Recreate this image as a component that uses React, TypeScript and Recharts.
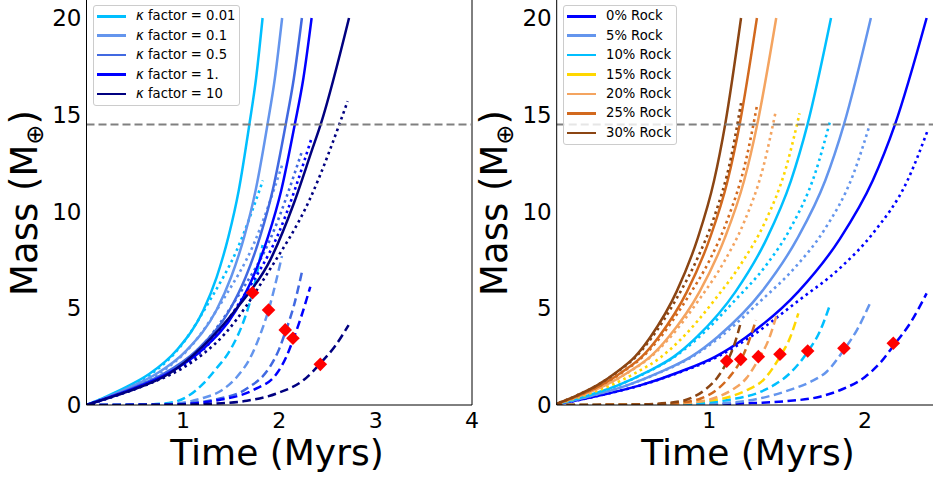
import React from "react";
import {
  ComposedChart,
  Line,
  ReferenceLine,
  Scatter,
  XAxis,
  YAxis,
} from "recharts";

type Pt = [number, number]; // [time (Myrs), mass (Earth masses)]

// ---- left panel: kappa factor runs ----
const k001Solid: Pt[] = [[0, 0], [0.21, 0.45], [0.42, 0.95], [0.65, 1.6], [0.937, 2.84], [1.214, 4.91], [1.35, 6.6], [1.473, 8.7], [1.58, 11.1], [1.69, 14.5], [1.76, 16.9], [1.827, 20]];
const k01Solid: Pt[] = [[0, 0], [0.233, 0.45], [0.467, 0.95], [0.722, 1.6], [1.041, 2.84], [1.349, 4.91], [1.5, 6.6], [1.637, 8.7], [1.755, 11.1], [1.878, 14.5], [1.955, 16.9], [2.03, 20]];
const k05Solid: Pt[] = [[0, 0], [0.257, 0.45], [0.514, 0.95], [0.795, 1.6], [1.146, 2.84], [1.485, 4.91], [1.651, 6.6], [1.801, 8.7], [1.932, 11.1], [2.067, 14.5], [2.152, 16.9], [2.235, 20]];
const k1Solid: Pt[] = [[0, 0], [0.269, 0.45], [0.537, 0.95], [0.831, 1.6], [1.198, 2.84], [1.553, 4.91], [1.727, 6.6], [1.884, 8.7], [2.021, 11.1], [2.161, 14.5], [2.251, 16.9], [2.336, 20]];
const k10Solid: Pt[] = [[0, 0], [0.21, 0.33], [0.42, 0.68], [0.868, 1.65], [1.2, 3.0], [1.56, 5.0], [1.906, 7.49], [2.15, 10.4], [2.34, 13.18], [2.43, 14.5], [2.724, 20]];

const k001Dotted: Pt[] = [[0, 0], [0.21, 0.42], [0.42, 0.9], [0.67, 1.6], [0.971, 3.0], [1.283, 5.43], [1.56, 8.01], [1.83, 11.6]];
const k01Dotted: Pt[] = [[0, 0], [0.233, 0.42], [0.467, 0.9], [0.745, 1.6], [1.078, 3.0], [1.425, 5.5], [1.734, 8.3], [2.03, 12.4]];
const k05Dotted: Pt[] = [[0, 0], [0.257, 0.42], [0.514, 0.9], [0.82, 1.6], [1.187, 3.0], [1.569, 5.6], [1.909, 8.6], [2.235, 13.1]];
const k1Dotted: Pt[] = [[0, 0], [0.269, 0.42], [0.537, 0.9], [0.857, 1.6], [1.24, 3.0], [1.64, 5.7], [1.995, 8.9], [2.336, 13.8]];
const k10Dotted: Pt[] = [[0, 0], [0.312, 0.5], [0.623, 1.05], [0.995, 1.9], [1.439, 3.7], [1.902, 7.0], [2.314, 10.6], [2.71, 15.7]];

const k001Dashed: Pt[] = [[0, 0], [0.6, 0.02], [0.9, 0.15], [1.05, 0.45], [1.214, 1.12], [1.35, 1.9], [1.491, 2.84], [1.647, 4.56], [1.723, 5.8], [1.827, 8.27]];
const k01Dashed: Pt[] = [[0, 0], [0.7, 0.02], [1.0, 0.12], [1.2, 0.35], [1.4, 0.75], [1.56, 1.45], [1.7, 2.45], [1.8, 3.6], [1.889, 4.91], [2.028, 7.7]];
const k05Dashed: Pt[] = [[0, 0], [0.8, 0.02], [1.1, 0.1], [1.35, 0.3], [1.664, 0.85], [1.906, 2.0], [2.0, 2.9], [2.062, 3.75], [2.15, 5.1], [2.236, 6.89]];
const k1Dashed: Pt[] = [[0, 0], [0.8, 0.02], [1.1, 0.08], [1.4, 0.28], [1.733, 0.78], [1.976, 1.64], [2.07, 2.45], [2.142, 3.35], [2.23, 4.6], [2.322, 6.11]];
const k10Dashed: Pt[] = [[0, 0], [1.0, 0.02], [1.35, 0.08], [1.664, 0.22], [1.976, 0.6], [2.253, 1.29], [2.426, 2.15], [2.58, 3.05], [2.72, 4.13]];

const kappaMarkers: Pt[] = [[1.723, 5.8], [1.889, 4.91], [2.062, 3.88], [2.142, 3.45], [2.426, 2.1]];

// ---- right panel: rock fraction runs ----
const r0Solid: Pt[] = [[0, 0], [0.3, 0.5], [0.55, 1.0], [0.812, 1.72], [1.04, 2.5], [1.24, 3.53], [1.572, 5.86], [1.84, 8.6], [2.05, 11.6], [2.193, 14.5], [2.396, 20]];
const r5Solid: Pt[] = [[0, 0], [0.255, 0.5], [0.468, 1.0], [0.691, 1.72], [0.884, 2.5], [1.055, 3.53], [1.337, 5.86], [1.565, 8.6], [1.745, 11.6], [1.865, 14.5], [2.038, 20]];
const r10Solid: Pt[] = [[0, 0], [0.223, 0.5], [0.409, 1.0], [0.604, 1.72], [0.773, 2.5], [0.922, 3.53], [1.169, 5.86], [1.369, 8.6], [1.525, 11.6], [1.631, 14.5], [1.782, 20]];
const r20Solid: Pt[] = [[0, 0], [0.179, 0.5], [0.328, 1.0], [0.485, 1.72], [0.621, 2.5], [0.74, 3.53], [0.938, 5.86], [1.098, 8.6], [1.224, 11.6], [1.308, 14.5], [1.43, 20]];
const r25Solid: Pt[] = [[0, 0], [0.163, 0.5], [0.3, 1.0], [0.443, 1.72], [0.567, 2.5], [0.676, 3.53], [0.857, 5.86], [1.003, 8.6], [1.118, 11.6], [1.195, 14.5], [1.306, 20]];
const r30Solid: Pt[] = [[0, 0], [0.151, 0.5], [0.276, 1.0], [0.408, 1.72], [0.523, 2.5], [0.623, 3.53], [0.79, 5.86], [0.925, 8.6], [1.031, 11.6], [1.102, 14.5], [1.204, 20]];

const r0Dotted: Pt[] = [[0, 0], [0.3, 0.5], [0.551, 1.0], [0.814, 1.7], [1.042, 2.45], [1.242, 3.4], [1.574, 5.4], [1.843, 7.1], [2.054, 8.9], [2.273, 11.6], [2.4, 14.13]];
const r5Dotted: Pt[] = [[0, 0], [0.254, 0.5], [0.466, 1.0], [0.689, 1.7], [0.882, 2.45], [1.052, 3.4], [1.333, 5.4], [1.561, 7.2], [1.739, 9.05], [1.924, 11.9], [2.032, 14.52]];
const r10Dotted: Pt[] = [[0, 0], [0.222, 0.5], [0.407, 1.0], [0.602, 1.7], [0.77, 2.45], [0.919, 3.4], [1.164, 5.4], [1.363, 7.2], [1.519, 9.1], [1.681, 12.0], [1.775, 14.64]];
const r15Dotted: Pt[] = [[0, 0], [0.198, 0.5], [0.363, 1.0], [0.536, 1.7], [0.686, 2.45], [0.818, 3.4], [1.036, 5.45], [1.213, 7.4], [1.352, 9.35], [1.496, 12.35], [1.58, 15.07]];
const r20Dotted: Pt[] = [[0, 0], [0.178, 0.5], [0.327, 1.0], [0.483, 1.7], [0.619, 2.45], [0.738, 3.4], [0.935, 5.45], [1.095, 7.4], [1.221, 9.4], [1.35, 12.4], [1.426, 15.14]];
const r25Dotted: Pt[] = [[0, 0], [0.163, 0.5], [0.3, 1.0], [0.443, 1.7], [0.567, 2.45], [0.676, 3.4], [0.857, 5.5], [1.003, 7.5], [1.118, 9.6], [1.237, 12.7], [1.306, 15.45]];
const r30Dotted: Pt[] = [[0, 0], [0.151, 0.5], [0.276, 1.0], [0.408, 1.7], [0.523, 2.45], [0.623, 3.4], [0.79, 5.5], [0.925, 7.6], [1.031, 9.7], [1.14, 12.8], [1.204, 15.6]];

const r0Dashed: Pt[] = [[0, 0], [0.8, 0.01], [1.2, 0.08], [1.5, 0.2], [1.711, 0.43], [1.85, 0.8], [2.0, 1.45], [2.1, 2.2], [2.182, 3.05], [2.3, 4.35], [2.396, 5.77]];
const r5Dashed: Pt[] = [[0, 0], [0.8, 0.02], [1.1, 0.1], [1.3, 0.3], [1.518, 0.78], [1.65, 1.2], [1.754, 1.72], [1.865, 2.85], [1.95, 3.9], [2.032, 5.25]];
const r10Dashed: Pt[] = [[0, 0], [0.7, 0.02], [0.95, 0.1], [1.15, 0.3], [1.304, 0.6], [1.42, 1.05], [1.518, 1.64], [1.632, 2.75], [1.71, 3.8], [1.775, 5.17]];
const r15Dashed: Pt[] = [[0, 0], [0.6, 0.02], [0.9, 0.15], [1.133, 0.43], [1.25, 0.8], [1.347, 1.29], [1.454, 2.5], [1.52, 3.5], [1.572, 4.74]];
const r20Dashed: Pt[] = [[0, 0], [0.6, 0.02], [0.85, 0.1], [1.047, 0.4], [1.15, 0.8], [1.24, 1.4], [1.315, 2.35], [1.38, 3.35], [1.433, 4.65]];
const r25Dashed: Pt[] = [[0, 0], [0.55, 0.02], [0.8, 0.12], [0.95, 0.35], [1.05, 0.8], [1.13, 1.45], [1.202, 2.3], [1.25, 3.2], [1.3, 4.39]];
const r30Dashed: Pt[] = [[0, 0], [0.5, 0.02], [0.75, 0.12], [0.88, 0.35], [0.972, 0.78], [1.05, 1.4], [1.112, 2.2], [1.16, 3.1], [1.204, 4.31]];

const rockMarkers: Pt[] = [[1.112, 2.27], [1.202, 2.36], [1.315, 2.5], [1.454, 2.62], [1.632, 2.79], [1.865, 2.93], [2.182, 3.19]];

const massTicks = [0, 5, 10, 15, 20];
const kappaTimeTicks = [1, 2, 3, 4];
const rockTimeTicks = [1, 2];
const critMass = 14.5;

type Run = { label: string; color: string; solid: Pt[] | null; dotted: Pt[]; dashed: Pt[] };

const kappaRuns: Run[] = [
  { label: "0.01", color: "#00bfff", solid: k001Solid, dotted: k001Dotted, dashed: k001Dashed },
  { label: "0.1", color: "#6495ed", solid: k01Solid, dotted: k01Dotted, dashed: k01Dashed },
  { label: "0.5", color: "#4169e1", solid: k05Solid, dotted: k05Dotted, dashed: k05Dashed },
  { label: "1.", color: "#0000ff", solid: k1Solid, dotted: k1Dotted, dashed: k1Dashed },
  { label: "10", color: "#000080", solid: k10Solid, dotted: k10Dotted, dashed: k10Dashed },
];

const rockRuns: Run[] = [
  { label: "0% Rock", color: "#0000ff", solid: r0Solid, dotted: r0Dotted, dashed: r0Dashed },
  { label: "5% Rock", color: "#6495ed", solid: r5Solid, dotted: r5Dotted, dashed: r5Dashed },
  { label: "10% Rock", color: "#00bfff", solid: r10Solid, dotted: r10Dotted, dashed: r10Dashed },
  { label: "15% Rock", color: "#ffd700", solid: null, dotted: r15Dotted, dashed: r15Dashed },
  { label: "20% Rock", color: "#f4a460", solid: r20Solid, dotted: r20Dotted, dashed: r20Dashed },
  { label: "25% Rock", color: "#d2691e", solid: r25Solid, dotted: r25Dotted, dashed: r25Dashed },
  { label: "30% Rock", color: "#8b4513", solid: r30Solid, dotted: r30Dotted, dashed: r30Dashed },
];

const FONT = "DejaVu Sans";
const rows = (pts: Pt[]) => pts.map(([t, m]) => ({ t, m }));

const Diamond = (props: any) => {
  const { cx, cy } = props;
  if (cx == null || cy == null) return null;
  const r = 6.8;
  return <polygon points={`${cx},${cy - r} ${cx + r},${cy} ${cx},${cy + r} ${cx - r},${cy}`} fill="#ff0000" />;
};

function runLines(runs: Run[], prefix: string) {
  const out: React.ReactNode[] = [];
  runs.forEach((r, i) => {
    if (r.solid)
      out.push(
        <Line key={`${prefix}s${i}`} data={rows(r.solid)} dataKey="m" type="monotone" stroke={r.color}
          strokeWidth={2.5} dot={false} activeDot={false} isAnimationActive={false} />
      );
    out.push(
      <Line key={`${prefix}o${i}`} data={rows(r.dotted)} dataKey="m" type="monotone" stroke={r.color}
        strokeWidth={2.6} strokeDasharray="2.6 3.6" dot={false} activeDot={false} isAnimationActive={false} />
    );
    out.push(
      <Line key={`${prefix}d${i}`} data={rows(r.dashed)} dataKey="m" type="monotone" stroke={r.color}
        strokeWidth={2.5} strokeDasharray="8.5 4.5" dot={false} activeDot={false} isAnimationActive={false} />
    );
  });
  return out;
}

function Panel(props: { runs: Run[]; markers: Pt[]; xMin: number; xMax: number; xTicks: number[]; left: number; width: number; marginLeft: number; marginRight: number; id: string }) {
  const { runs, markers, xMin, xMax, xTicks, left, width, marginLeft, marginRight, id } = props;
  return (
    <div style={{ position: "absolute", left, top: -10 }}>
      <ComposedChart width={width} height={488} margin={{ top: 8.65, right: marginRight, bottom: 13, left: marginLeft }}>
        <XAxis dataKey="t" type="number" domain={[xMin, xMax]} ticks={xTicks} allowDataOverflow
          height={60} tickLine={false} tickSize={6} tickMargin={1} axisLine={{ stroke: "#000" }}
          tick={{ fontSize: 22, fill: "#000", fontFamily: FONT }} />
        <YAxis dataKey="m" type="number" domain={[0, 21]} ticks={massTicks} allowDataOverflow
          width={80} tickLine={false} tickSize={5} tickMargin={0} axisLine={{ stroke: "#000" }}
          tick={{ fontSize: 23, fill: "#000", fontFamily: FONT }} />
        <ReferenceLine x={xMax} stroke="#000" strokeWidth={1} />
        <ReferenceLine y={21} stroke="#000" strokeWidth={1} />
        {runLines(runs, id)}
        <ReferenceLine y={critMass} stroke="#808080" strokeWidth={2} strokeDasharray="8 4" />
        <Scatter data={rows(markers)} dataKey="m" shape={Diamond} isAnimationActive={false} />
      </ComposedChart>
    </div>
  );
}

function LegendBox(props: { left: number; width: number; height: number; items: { label: React.ReactNode; color: string }[] }) {
  const { left, width, height, items } = props;
  return (
    <div style={{ position: "absolute", left, top: 5, width, height, boxSizing: "border-box", border: "1px solid #cccccc",
      borderRadius: 3, background: "rgba(255,255,255,0.8)", fontFamily: FONT, fontSize: 13.2, color: "#000" }}>
      {items.map((it, i) => {
        const c = 10.2 + i * 19.45;
        return (
          <React.Fragment key={i}>
            <div style={{ position: "absolute", left: 3, top: c - 1.4, width: 29, height: 2.8, background: it.color }} />
            <div style={{ position: "absolute", left: 42, top: c - 8, lineHeight: "16px", whiteSpace: "nowrap" }}>{it.label}</div>
          </React.Fragment>
        );
      })}
    </div>
  );
}

export default function App() {
  const kappaItems = kappaRuns.map((r) => ({
    label: (<span><i>κ</i> factor = {r.label}</span>),
    color: r.color,
  }));
  const rockItems = rockRuns.map((r) => ({ label: r.label, color: r.color }));
  return (
    <div style={{ position: "fixed", left: 0, top: 0, width: 933, height: 478, overflow: "hidden", background: "#fff" }}>
      <Panel id="k" runs={kappaRuns} markers={kappaMarkers} xMin={0} xMax={4} xTicks={kappaTimeTicks}
        left={0} width={480} marginLeft={6.5} marginRight={8} />
      <Panel id="r" runs={rockRuns} markers={rockMarkers} xMin={0.02} xMax={2.48} xTicks={rockTimeTicks}
        left={470} width={470} marginLeft={6.7} marginRight={0.3} />
      <LegendBox left={93} width={147} height={101} items={kappaItems} />
      <LegendBox left={563} width={114} height={140} items={rockItems} />
      <svg width={933} height={478} style={{ position: "absolute", left: 0, top: 0, pointerEvents: "none" }}>
        <g fontFamily={FONT} fill="#000">
          <text x={277} y={465} fontSize={36} textAnchor="middle">Time (Myrs)</text>
          <text x={748} y={465} fontSize={36} textAnchor="middle">Time (Myrs)</text>
          {[36.5, 506.5].map((x) => (
            <text key={x} transform={`translate(${x},203) rotate(-90)`} fontSize={37} textAnchor="middle">
              Mass (M<tspan fontSize={24} dy={6}>⊕</tspan><tspan dy={-6}>)</tspan>
            </text>
          ))}
        </g>
      </svg>
    </div>
  );
}
